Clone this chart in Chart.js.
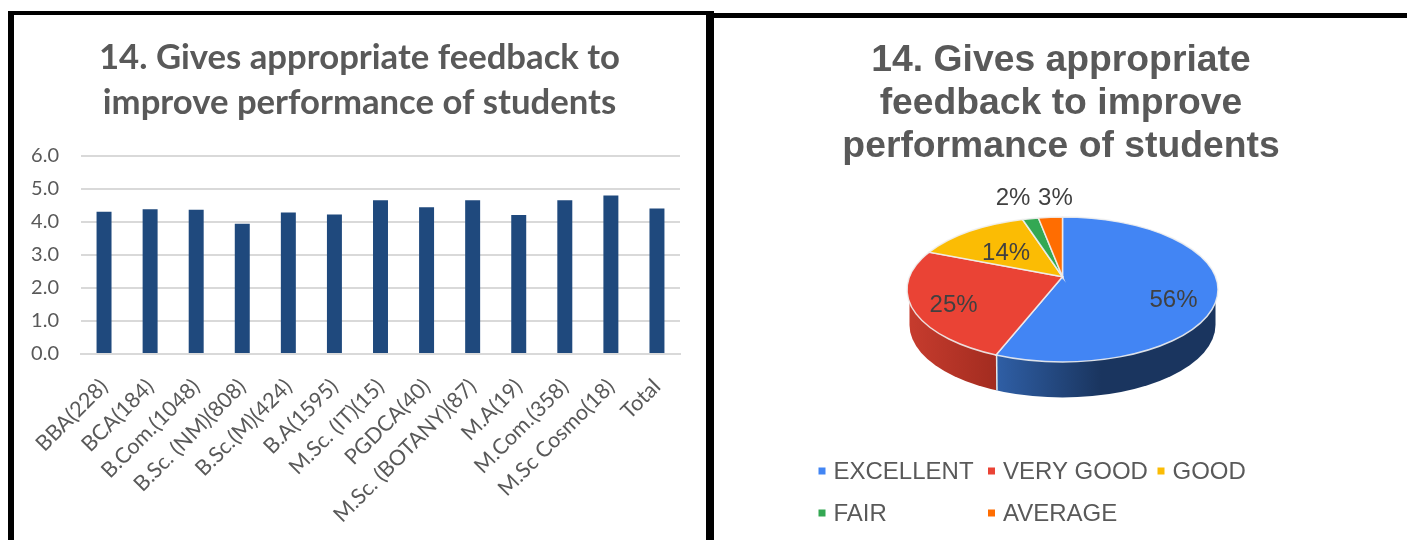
<!DOCTYPE html>
<html>
<head>
<meta charset="utf-8">
<title>14. Gives appropriate feedback</title>
<script src="https://cdn.jsdelivr.net/npm/chart.js@4"></script>
<style>
    html, body { margin: 0; padding: 0; background: #fff; }
    body { position: relative; width: 1407px; height: 540px; overflow: hidden; }
    canvas { position: absolute; top: 0; }
    #chart-bar { left: 14px; }
    #chart-pie { left: 715px; }
    .trait { position: absolute; background: #000; }
</style>
</head>
<body>
<div class="trait" style="left:8px;top:11px;width:703px;height:4px"></div>
<div class="trait" style="left:8px;top:11px;width:6px;height:529px"></div>
<div class="trait" style="left:706px;top:11px;width:8px;height:529px"></div>
<div class="trait" style="left:711px;top:13px;width:696px;height:5px"></div>
<canvas id="chart-bar" width="691" height="540"></canvas>
<canvas id="chart-pie" width="692" height="540"></canvas>

<script>
// Bar chart data
const courses = ['BBA(228)', 'BCA(184)', 'B.Com.(1048)', 'B.Sc. (NM)(808)', 'B.Sc.(M)(424)', 'B.A(1595)',
    'M.Sc. (IT)(15)', 'PGDCA(40)', 'M.Sc. (BOTANY)(87)', 'M.A(19)', 'M.Com.(358)', 'M.Sc Cosmo(18)', 'Total'];
const scores = [4.31, 4.39, 4.37, 3.95, 4.29, 4.23, 4.66, 4.45, 4.66, 4.21, 4.66, 4.80, 4.41];

// Pie chart data
const grades = ['EXCELLENT', 'VERY GOOD', 'GOOD', 'FAIR', 'AVERAGE'];
const shares = [56, 25, 14, 2, 3];

const barTitle = ['14. Gives appropriate feedback to', 'improve performance of students'];
const pieTitle = ['14. Gives appropriate', 'feedback to improve', 'performance of students'];
const pieColors = ['#4285f4', '#ea4335', '#fbbc04', '#34a853', '#ff6d01'];

// the titles are not centred over the plot in the original
const nudgeTitle = (dx) => ({
    id: 'nudgeTitle',
    beforeDraw(chart) {
        chart.titleBlock.left += dx;
        chart.titleBlock.right += dx;
    }
});

new Chart(document.getElementById('chart-bar'), {
    type: 'bar',
    data: {
        labels: courses,
        datasets: [{ data: scores, backgroundColor: '#1f497d', barPercentage: 0.65, categoryPercentage: 0.5 }]
    },
    options: {
        responsive: false,
        animation: false,
        layout: { padding: { left: 5, right: 25, top: 0, bottom: 0 } },
        plugins: {
            legend: { display: false },
            title: {
                display: true,
                text: barTitle,
                color: '#595959',
                font: { family: 'Lato', size: 34.7, weight: 'bold', lineHeight: '45px' },
                padding: { top: 35, bottom: 31 }
            }
        },
        scales: {
            x: {
                afterFit: (scale) => { scale.height = 186; },
                grid: { display: false },
                border: { color: '#d9d9d9', width: 2 },
                ticks: { color: '#595959', font: { family: 'Lato', size: 21.5 }, minRotation: 45, maxRotation: 45, autoSkip: false, padding: 12 }
            },
            y: {
                min: 0,
                max: 6,
                afterFit: (scale) => { scale.width = 62; },
                grid: { color: '#d9d9d9', lineWidth: 2, drawTicks: false },
                border: { display: false },
                ticks: { stepSize: 1, color: '#595959', font: { family: 'Lato', size: 20 }, padding: 22, callback: (v) => v.toFixed(1) }
            }
        }
    },
    plugins: [nudgeTitle(10)]
});

// Look of the tilted pie, in fractions of the radius
const SQUASH = 0.466;       // ellipse height / width
const APEX_LIFT = 0.082;    // the slices meet above the ellipse centre
const WALL_DROP = 0.228;
const WALL_NARROW = 0.984;
const labelSpots = [
    { k: 0.72, dx: 1, dy: 14 },
    { k: 0.77, dx: 1, dy: 6 },
    { k: 0.53, dx: 0, dy: 5 },
    { k: 1.28, dx: 0, dy: 11 },
    { k: 1.10, dx: 9, dy: 1 }
];

// where the ray from the apex at a given arc angle hits the ellipse
function rimPoint(el, angle) {
    const b = el.outerRadius * SQUASH;
    const lift = el.outerRadius * APEX_LIFT;
    const u = Math.cos(angle), v = Math.sin(angle), p = -lift / b;
    const t = -p * v + Math.sqrt(p * p * v * v + 1 - p * p);
    return {
        u, v, b, lift,
        phi: Math.atan2(p + t * v, t * u),
        x: el.x + el.outerRadius * t * u,
        y: el.y - lift + b * t * v
    };
}

const tiltedPie = {
    id: 'tiltedPie',
    beforeDatasetsDraw(chart) {
        const ctx = chart.ctx;
        const arcs = chart.getDatasetMeta(0).data;
        const first = arcs[0];
        const a = first.outerRadius, b = a * SQUASH;
        const cx = first.x, cy = first.y;
        const splitX = rimPoint(first, first.endAngle).x;

        // side wall
        const a2 = a * WALL_NARROW, cy2 = cy + a * WALL_DROP;
        ctx.save();
        ctx.beginPath();
        ctx.moveTo(cx + a2, cy);
        ctx.lineTo(cx + a2, cy2);
        ctx.ellipse(cx, cy2, a2, b, 0, 0, Math.PI);
        ctx.lineTo(cx - a2, cy);
        ctx.closePath();
        ctx.clip();
        const blue = ctx.createLinearGradient(splitX, 0, splitX + 105, 0);
        blue.addColorStop(0, '#2f5fa6');
        blue.addColorStop(1, '#1a355f');
        ctx.fillStyle = blue;
        ctx.fillRect(splitX, cy, a * 2, a);
        const red = ctx.createLinearGradient(cx - a, 0, splitX, 0);
        red.addColorStop(0, '#c73c2e');
        red.addColorStop(1, '#a32c20');
        ctx.fillStyle = red;
        ctx.fillRect(cx - a, cy, splitX - cx + a, a);
        ctx.strokeStyle = '#e6e6e6';
        ctx.lineWidth = 1.5;
        ctx.beginPath();
        ctx.moveTo(splitX, cy);
        ctx.lineTo(splitX + 1, cy2 + b);
        ctx.stroke();
        ctx.restore();

        // top face
        arcs.forEach((el, i) => {
            const from = rimPoint(el, el.startAngle);
            const to = rimPoint(el, el.endAngle);
            ctx.beginPath();
            ctx.moveTo(cx, cy - from.lift);
            ctx.ellipse(cx, cy, a, b, 0, from.phi, to.phi);
            ctx.closePath();
            ctx.fillStyle = pieColors[i];
            ctx.fill();
            ctx.strokeStyle = 'rgba(240,240,240,0.9)';
            ctx.lineWidth = 1.5;
            ctx.stroke();
        });

        // percent labels
        ctx.fillStyle = '#404040';
        ctx.font = '24px "Liberation Sans"';
        ctx.textAlign = 'center';
        ctx.textBaseline = 'middle';
        arcs.forEach((el, i) => {
            const mid = rimPoint(el, (el.startAngle + el.endAngle) / 2);
            const spot = labelSpots[i];
            ctx.fillText(shares[i] + '%',
                cx + a * mid.u * spot.k + spot.dx,
                cy - mid.lift + mid.b * mid.v * spot.k + spot.dy);
        });
        return false;
    }
};

// Two-row legend with fixed columns
const columnLegend = {
    id: 'columnLegend',
    afterDraw(chart) {
        const ctx = chart.ctx;
        ctx.save();
        ctx.font = '24px "Liberation Sans"';
        ctx.textAlign = 'left';
        ctx.textBaseline = 'middle';
        grades.forEach((g, i) => {
            const x = 103.5 + (i % 3) * 169.5;
            const y = 471 + Math.floor(i / 3) * 42;
            ctx.fillStyle = pieColors[i];
            ctx.fillRect(x, y - 3.5, 7, 7);
            ctx.fillStyle = '#595959';
            ctx.fillText(g, x + 15, y + 1);
        });
        ctx.restore();
    }
};

new Chart(document.getElementById('chart-pie'), {
    type: 'pie',
    data: {
        labels: grades,
        datasets: [{ data: shares, backgroundColor: pieColors, radius: 155.5 }]
    },
    options: {
        responsive: false,
        animation: false,
        layout: { padding: { left: 3, right: 0, top: 0, bottom: 131 } },
        plugins: {
            legend: { display: false },
            tooltip: { enabled: false },
            title: {
                display: true,
                text: pieTitle,
                color: '#595959',
                font: { family: 'Liberation Sans', size: 37.3, weight: 'bold', lineHeight: '43px' },
                padding: { top: 39, bottom: 2 }
            }
        }
    },
    plugins: [nudgeTitle(-1.5), tiltedPie, columnLegend]
});
</script>
</body>
</html>
